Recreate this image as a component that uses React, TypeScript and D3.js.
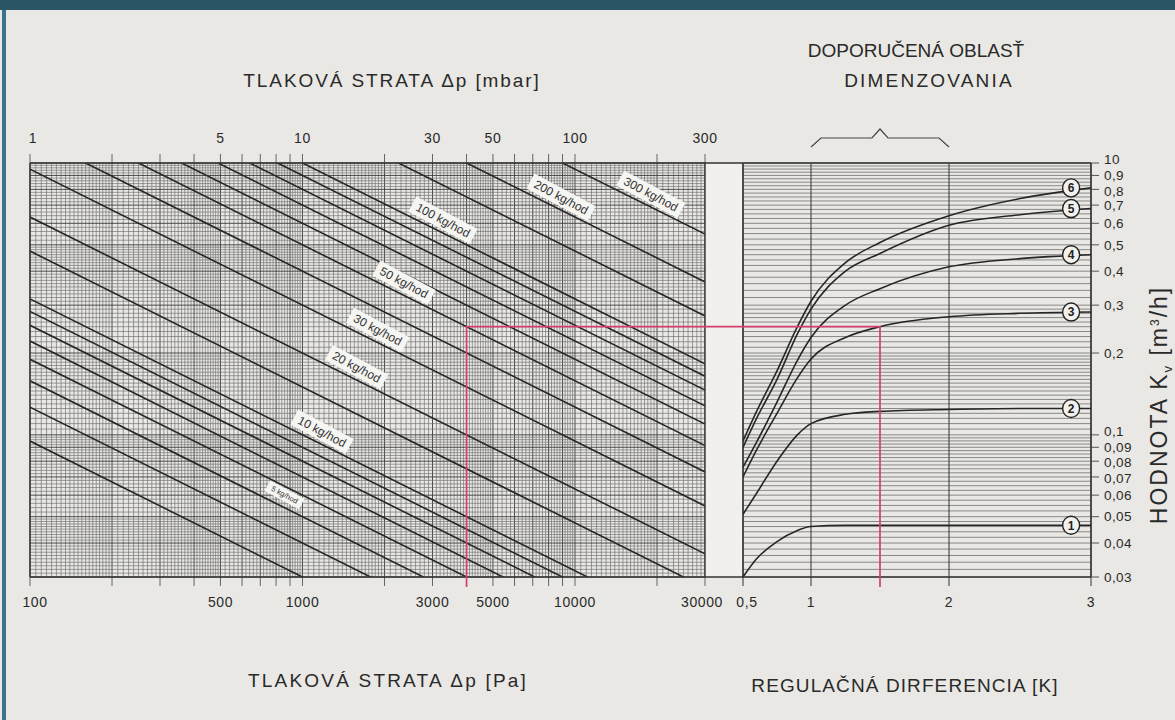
import * as React from 'react';
import { useEffect, useRef } from 'react';
import * as d3 from 'd3';

// Chart data
const flowLines = [3, 4, 5, 6, 7, 8, 9, 10, 15, 20, 30, 40, 50, 60, 70, 80, 90, 100, 150, 200, 300]; // kg/hod
const labelledFlows = [5, 10, 20, 30, 50, 100, 200, 300];
const labelDp = [8.6, 11.8, 15.8, 18.9, 23.6, 32.8, 89, 190]; // mbar, where each label sits

const mbarTicks = [1, 5, 10, 30, 50, 100, 300];
const paTicks = [100, 500, 1000, 3000, 5000, 10000, 30000];
const dtTicks = [0.5, 1, 2, 3];
const dtTickLabels = ['0,5', '1', '2', '3'];
const kvTicks = [1, 0.9, 0.8, 0.7, 0.6, 0.5, 0.4, 0.3, 0.2, 0.1, 0.09, 0.08, 0.07, 0.06, 0.05, 0.04, 0.03];
const kvTickLabels = ['10', '0,9', '0,8', '0,7', '0,6', '0,5', '0,4', '0,3', '0,2', '0,1', '0,09', '0,08', '0,07', '0,06', '0,05', '0,04', '0,03'];

// regulation curves 1..6: Kv at each regulation difference
const dtSteps = [0.5, 0.6, 0.75, 0.9, 1, 1.25, 1.5, 2, 2.5, 3];
const curve1 = [0.03, 0.035, 0.0405, 0.0445, 0.046, 0.0465, 0.0465, 0.0465, 0.0465, 0.0465];
const curve2 = [0.051, 0.061, 0.08, 0.1, 0.11, 0.119, 0.122, 0.124, 0.125, 0.125];
const curve3 = [0.07, 0.088, 0.12, 0.162, 0.19, 0.228, 0.25, 0.272, 0.28, 0.283];
const curve4 = [0.076, 0.094, 0.132, 0.188, 0.228, 0.3, 0.345, 0.415, 0.445, 0.46];
const curve5 = [0.09, 0.115, 0.16, 0.235, 0.29, 0.4, 0.465, 0.59, 0.645, 0.68];
const curve6 = [0.095, 0.122, 0.172, 0.25, 0.31, 0.43, 0.51, 0.64, 0.74, 0.81];
const curves = [curve1, curve2, curve3, curve4, curve5, curve6];

const recommendedRange = [1, 2]; // K
const exampleDp = 4000; // Pa
const exampleKv = 0.25;
const exampleDt = 1.5;

const W = 1175;
const H = 720;
const FONT = '"Liberation Sans", Arial, Helvetica, sans-serif';
const INK = '#2a2a2a';

// log paper subdivisions inside one decade
function logGrid(min: number, max: number, table: number[][]): number[] {
  const out: number[] = [];
  const d0 = Math.floor(Math.log10(min));
  const d1 = Math.ceil(Math.log10(max));
  for (let dec = d0; dec <= d1; dec++) {
    const p = Math.pow(10, dec);
    table.forEach(([from, to, step]) => {
      for (let v = from; v < to - 1e-9; v += step) {
        const val = +(v * p).toPrecision(6);
        if (val >= min * 0.9999 && val <= max * 1.0001) out.push(val);
      }
    });
  }
  out.push(max);
  return Array.from(new Set(out));
}

function isMajor(v: number) {
  const p = Math.pow(10, Math.floor(Math.log10(v) + 1e-9));
  const r = v / p;
  return Math.abs(r - Math.round(r)) < 1e-6;
}

const Nomogram: React.FC = () => {
  const svgRef = useRef<SVGSVGElement>(null);

  useEffect(() => {
    const svg = d3.select(svgRef.current);
    svg.selectAll('*').remove();

    const L = { x0: 30, x1: 705 };
    const R = { x0: 743, x1: 1091 };
    const top = 163;
    const bottom = 577;

    const xMbar = d3.scaleLog().domain([1, 300]).range([L.x0, L.x1]);
    const xPa = d3.scaleLog().domain([100, 30000]).range([L.x0, L.x1]);
    const yKv = d3.scaleLog().domain([0.03, 1]).range([bottom, top]);
    const xDt = d3.scaleLinear().domain([0.5, 1, 2, 3]).range([R.x0, 811, 949, R.x1]);

    // background
    svg.append('rect').attr('width', W).attr('height', H).attr('fill', '#e9e8e4');
    svg.append('rect').attr('width', W).attr('height', 10).attr('fill', '#2b5665');
    svg.append('rect').attr('x', 2).attr('y', 10).attr('width', 4).attr('height', H - 10).attr('fill', '#3a7391');

    const defs = svg.append('defs');
    defs.append('clipPath').attr('id', 'clipL')
      .append('rect').attr('x', L.x0).attr('y', top).attr('width', L.x1 - L.x0).attr('height', bottom - top);
    defs.append('clipPath').attr('id', 'clipR')
      .append('rect').attr('x', R.x0).attr('y', top).attr('width', R.x1 - R.x0).attr('height', bottom - top);

    const fine = [[1, 2, 0.05], [2, 5, 0.1], [5, 10, 0.2]];
    const coarse = [[1, 2, 0.05], [2, 3, 0.1], [3, 5, 0.2], [5, 10, 0.25]];

    // ---- left panel grid
    const gl = svg.append('g');
    gl.selectAll('line.v').data(logGrid(1, 300, fine)).enter().append('line')
      .attr('x1', d => xMbar(d)).attr('x2', d => xMbar(d))
      .attr('y1', top).attr('y2', bottom)
      .attr('stroke', d => (isMajor(d) ? '#3c3c3c' : '#6c6c6c'))
      .attr('stroke-width', d => (isMajor(d) ? 0.9 : 0.65));
    gl.selectAll('line.h').data(logGrid(0.03, 1, fine)).enter().append('line')
      .attr('x1', L.x0).attr('x2', L.x1)
      .attr('y1', d => yKv(d)).attr('y2', d => yKv(d))
      .attr('stroke', d => (isMajor(d) ? '#3c3c3c' : '#6c6c6c'))
      .attr('stroke-width', d => (isMajor(d) ? 0.9 : 0.65));

    // top (mbar) and bottom (Pa) tick marks
    const majors = logGrid(1, 300, fine).filter(isMajor);
    gl.selectAll('line.tt').data(majors).enter().append('line')
      .attr('x1', d => xMbar(d)).attr('x2', d => xMbar(d))
      .attr('y1', top - 9).attr('y2', top)
      .attr('stroke', '#555').attr('stroke-width', 0.9);
    gl.selectAll('line.tb').data(majors).enter().append('line')
      .attr('x1', d => xMbar(d)).attr('x2', d => xMbar(d))
      .attr('y1', bottom).attr('y2', bottom + 9)
      .attr('stroke', '#555').attr('stroke-width', 0.9);

    // ---- iso-flow lines: Kv = Q / sqrt(dp)
    const kvAt = (flow: number, dpMbar: number) => (flow / 1000) / Math.sqrt(dpMbar / 1000);
    const flowG = svg.append('g').attr('clip-path', 'url(#clipL)');
    flowG.selectAll('line').data(flowLines).enter().append('line')
      .attr('x1', xMbar(1)).attr('y1', d => yKv(kvAt(d, 1)))
      .attr('x2', xMbar(300)).attr('y2', d => yKv(kvAt(d, 300)))
      .attr('stroke', '#262626').attr('stroke-width', 1.6);

    // flow labels on white tilted boxes
    const angle = (Math.atan2(yKv(kvAt(10, 300)) - yKv(kvAt(10, 1)), xMbar(300) - xMbar(1)) * 180) / Math.PI;
    labelledFlows.forEach((flow, i) => {
      const dp = labelDp[i];
      const cx = xMbar(dp);
      const cy = yKv(kvAt(flow, dp)) - 13;
      const g = svg.append('g').attr('transform', `translate(${cx},${cy}) rotate(${angle + 1.5})`);
      const fs = flow === 5 ? 7.5 : 12;
      const t = g.append('text')
        .attr('text-anchor', 'middle').attr('dy', '0.35em')
        .attr('font-family', FONT).attr('font-size', fs).attr('fill', '#333')
        .text(`${flow} kg/hod`);
      const bb = (t.node() as SVGTextElement).getBBox();
      g.insert('rect', 'text')
        .attr('x', bb.x - 5).attr('y', bb.y - 1.5)
        .attr('width', bb.width + 10).attr('height', bb.height + 3)
        .attr('fill', '#f5f5f2');
    });

    // ---- right panel grid
    const gr = svg.append('g');
    gr.append('rect').attr('x', L.x1).attr('y', top).attr('width', R.x0 - L.x1).attr('height', bottom - top).attr('fill', '#f1f0ed');
    gr.selectAll('line.h').data(logGrid(0.03, 1, coarse)).enter().append('line')
      .attr('x1', R.x0).attr('x2', R.x1)
      .attr('y1', d => yKv(d)).attr('y2', d => yKv(d))
      .attr('stroke', '#5e5e5e').attr('stroke-width', 0.7);
    gr.selectAll('line.v').data(dtTicks).enter().append('line')
      .attr('x1', d => xDt(d)).attr('x2', d => xDt(d))
      .attr('y1', top).attr('y2', bottom + 9)
      .attr('stroke', '#333').attr('stroke-width', 1);

    // frame
    svg.append('line').attr('x1', L.x0).attr('x2', R.x1).attr('y1', top).attr('y2', top).attr('stroke', '#333').attr('stroke-width', 1.4);
    svg.append('line').attr('x1', L.x0).attr('x2', R.x1).attr('y1', bottom).attr('y2', bottom).attr('stroke', '#333').attr('stroke-width', 1.4);
    [L.x0, L.x1, R.x0, R.x1].forEach(x => {
      svg.append('line').attr('x1', x).attr('x2', x).attr('y1', top).attr('y2', bottom).attr('stroke', '#333').attr('stroke-width', 1.4);
    });

    // Kv axis on the right (crowded labels nudged apart a little)
    const nudge: Record<string, number> = { '10': -4, '0,8': 1.5, '0,1': -3.5, '0,08': 1.5, '0,07': 1.5 };
    const ka = svg.append('g');
    ka.selectAll('line').data(kvTicks).enter().append('line')
      .attr('x1', R.x1).attr('x2', R.x1 + 8)
      .attr('y1', d => yKv(d)).attr('y2', d => yKv(d))
      .attr('stroke', '#444').attr('stroke-width', 0.9);
    ka.selectAll('text').data(kvTicks).enter().append('text')
      .attr('x', R.x1 + 13)
      .attr('y', (d, i) => yKv(d) + (nudge[kvTickLabels[i]] || 0))
      .attr('dy', '0.35em')
      .attr('font-family', FONT).attr('font-size', 13.5).attr('letter-spacing', 0.4).attr('fill', INK)
      .text((_, i) => kvTickLabels[i]);

    // ---- regulation curves
    const line = d3.line<number>()
      .x((_, i) => xDt(dtSteps[i]))
      .y(d => yKv(d))
      .curve(d3.curveMonotoneX);
    const cg = svg.append('g').attr('clip-path', 'url(#clipR)');
    cg.selectAll('path').data(curves).enter().append('path')
      .attr('d', d => line(d))
      .attr('fill', 'none').attr('stroke', '#262626').attr('stroke-width', 1.6);

    curves.forEach((c, i) => {
      const cx = xDt(2.86);
      const cy = yKv(c[c.length - 1]);
      svg.append('ellipse').attr('cx', cx).attr('cy', cy).attr('rx', 8.5).attr('ry', 9)
        .attr('fill', '#f2f1ee').attr('stroke', '#222').attr('stroke-width', 1.4);
      svg.append('text').attr('x', cx).attr('y', cy).attr('dy', '0.36em')
        .attr('text-anchor', 'middle').attr('font-family', FONT).attr('font-size', 12)
        .attr('font-weight', 'bold').attr('fill', '#222').text(String(i + 1));
    });

    // ---- worked example (red)
    const red = '#d63f6c';
    svg.append('path')
      .attr('d', `M${xPa(exampleDp)},${bottom + 10}V${yKv(exampleKv)}H${xDt(exampleDt)}V${bottom + 10}`)
      .attr('fill', 'none').attr('stroke', red).attr('stroke-width', 1.7);

    // ---- tick labels
    const tickText = (x: number, y: number, s: string) =>
      svg.append('text').attr('x', x).attr('y', y).attr('text-anchor', 'middle')
        .attr('font-family', FONT).attr('font-size', 14).attr('letter-spacing', 0.6).attr('fill', INK).text(s);
    mbarTicks.forEach(v => tickText(xMbar(v) + (v === 1 ? 3 : 0), 143, String(v)));
    paTicks.forEach(v => tickText(xPa(v) + (v === 100 ? 5 : v === 30000 ? -3 : 0), 607, String(v)));
    dtTicks.forEach((v, i) => tickText(xDt(v) + (i === 0 ? 4 : 0), 607, dtTickLabels[i]));

    // recommended range brace
    const bx0 = xDt(recommendedRange[0]);
    const bx1 = xDt(recommendedRange[1]);
    const bm = (bx0 + bx1) / 2;
    svg.append('path')
      .attr('d', `M${bx0},147L${bx0 + 10},138H${bm - 8}L${bm},129L${bm + 8},138H${bx1 - 10}L${bx1},147`)
      .attr('fill', 'none').attr('stroke', '#444').attr('stroke-width', 1.2);

    // ---- titles
    const title = (x: number, y: number, s: string, ls: number) =>
      svg.append('text').attr('x', x).attr('y', y).attr('text-anchor', 'middle')
        .attr('font-family', FONT).attr('font-size', 19).attr('letter-spacing', ls)
        .attr('fill', INK).text(s);
    title(392, 87, 'TLAKOVÁ STRATA Δp [mbar]', 1.9);
    title(916, 57, 'DOPORUČENÁ OBLASŤ', 0);
    title(929, 87, 'DIMENZOVANIA', 2.2);
    title(388, 687, 'TLAKOVÁ STRATA Δp [Pa]', 2.2);
    title(905, 692, 'REGULAČNÁ DIRFERENCIA [K]', 1.1);

    const yt = svg.append('text')
      .attr('transform', `translate(1167,405) rotate(-90)`)
      .attr('text-anchor', 'middle')
      .attr('font-family', FONT).attr('font-size', 23).attr('letter-spacing', 2)
      .attr('fill', INK);
    yt.append('tspan').text('HODNOTA K');
    yt.append('tspan').attr('font-size', 13).attr('dy', 5).text('v');
    yt.append('tspan').attr('dy', -5).text(' [m');
    yt.append('tspan').attr('font-size', 12).attr('dy', -8).text('3');
    yt.append('tspan').attr('dy', 8).text('/h]');
  }, []);

  return (
    <svg ref={svgRef} width={W} height={H} style={{ position: 'absolute', left: 0, top: 0 }}></svg>
  );
};

export default function App() {
  return <Nomogram />;
}
